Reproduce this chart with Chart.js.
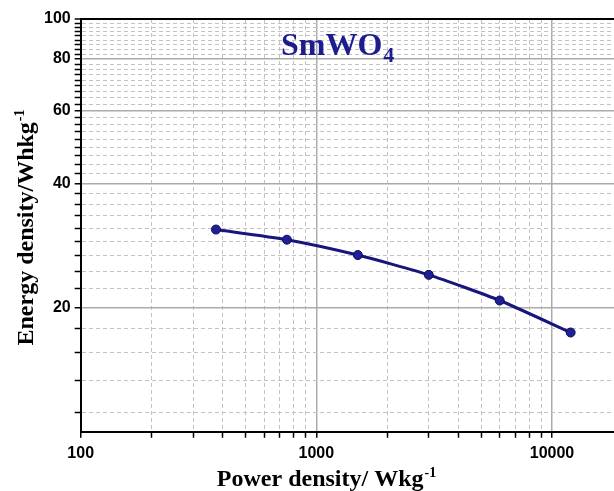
<!DOCTYPE html>
<html>
<head>
<meta charset="utf-8">
<script src="https://cdn.jsdelivr.net/npm/chart.js@4.4.1/dist/chart.umd.min.js"></script>
<style>
  html, body { margin: 0; padding: 0; background: #fff; }
  #wrap { width: 614px; height: 491px; }
</style>
</head>
<body>
<div id="wrap"><canvas id="myChart"></canvas></div>
<script>
// Ragone plot, SmWO4
var powerDensity = [375, 750, 1500, 3000, 6000, 12000];
var energyDensity = [30.9, 29.2, 26.8, 24.0, 20.8, 17.4];

var xMajorTicks = [100, 1000, 10000];
var xMinorTicks = [200, 300, 400, 500, 600, 700, 800, 900,
                   2000, 3000, 4000, 5000, 6000, 7000, 8000, 9000];
var yMajorTicks = [20, 40, 60, 80, 100];
var yMinorSteps = 9; // 8 minor lines between majors

var titleText = "SmWO";
var titleSub = "4";
var xTitle = "Power density/ Wkg";
var yTitle = "Energy density/Whkg";
var unitSup = "-1";

var lineColor = "#16167e";
var majorGrid = "#ababab";
var minorGrid = "#c2c2c2";

function isMajor(list, v) {
    for (var i = 0; i < list.length; i++) {
        if (Math.abs(list[i] - v) < 1e-6) return true;
    }
    return false;
}

var yTickValues = [];
for (var k = 5; k <= 45; k++) {
    yTickValues.push(20 * k / yMinorSteps);
}
var xTickValues = xMajorTicks.concat(xMinorTicks).sort(function (a, b) { return a - b; });

var points = powerDensity.map(function (p, i) { return { x: p, y: energyDensity[i] }; });

var textPlugin = {
    id: 'texts',
    afterDraw: function (chart) {
        var ctx = chart.ctx;
        ctx.save();
        ctx.fillStyle = '#000';
        ctx.textBaseline = 'alphabetic';
        ctx.textAlign = 'left';

        // x title
        ctx.font = 'bold 24px "Liberation Serif", "Times New Roman", serif';
        var w = ctx.measureText(xTitle).width;
        ctx.font = 'bold 14px "Liberation Serif", "Times New Roman", serif';
        var ws = ctx.measureText(unitSup).width;
        var xs = 326 - (w + ws) / 2;
        ctx.font = 'bold 24px "Liberation Serif", "Times New Roman", serif';
        ctx.fillText(xTitle, xs, 486);
        ctx.font = 'bold 14px "Liberation Serif", "Times New Roman", serif';
        ctx.fillText(unitSup, xs + w + 1, 477);

        // y title (rotated)
        ctx.save();
        ctx.translate(33, 228);
        ctx.rotate(-Math.PI / 2);
        ctx.font = 'bold 24px "Liberation Serif", "Times New Roman", serif';
        var wy = ctx.measureText(yTitle).width;
        ctx.font = 'bold 14px "Liberation Serif", "Times New Roman", serif';
        var wys = ctx.measureText(unitSup).width;
        var ys = -(wy + wys) / 2;
        ctx.font = 'bold 24px "Liberation Serif", "Times New Roman", serif';
        ctx.fillText(yTitle, ys, 0);
        ctx.font = 'bold 14px "Liberation Serif", "Times New Roman", serif';
        ctx.fillText(unitSup, ys + wy + 1, -9);
        ctx.restore();

        // chart label
        ctx.fillStyle = '#1c1c8e';
        ctx.font = 'bold 32px "Liberation Serif", "Times New Roman", serif';
        ctx.fillText(titleText, 281, 55);
        var wt = ctx.measureText(titleText).width;
        ctx.font = 'bold 22px "Liberation Serif", "Times New Roman", serif';
        ctx.fillText(titleSub, 281 + wt + 1, 62);
        ctx.restore();
    }
};

var chart = new Chart("myChart", {
    type: "line",
    data: {
        datasets: [{
            label: "SmWO4",
            data: points,
            borderColor: lineColor,
            borderWidth: 3,
            tension: 0.2,
            pointRadius: 4.5,
            pointHoverRadius: 4.5,
            pointBackgroundColor: "#1f1f96",
            pointBorderColor: "#0b0b55",
            pointBorderWidth: 1
        }]
    },
    options: {
        responsive: true,
        maintainAspectRatio: false,
        animation: false,
        layout: { autoPadding: false, padding: { left: 40, top: 19, right: 0, bottom: 22 } },
        plugins: {
            legend: { display: false },
            tooltip: { enabled: false }
        },
        scales: {
            x: {
                type: 'logarithmic',
                min: 100,
                max: 18330,
                afterBuildTicks: function (scale) {
                    scale.ticks = xTickValues.map(function (v) { return { value: v }; });
                },
                ticks: {
                    autoSkip: false,
                    maxRotation: 0,
                    padding: 6,
                    color: '#000',
                    font: { family: '"Liberation Sans", Arial, sans-serif', size: 16, weight: 'bold' },
                    callback: function (v) { return isMajor(xMajorTicks, v) ? String(v) : ''; }
                },
                grid: {
                    color: function (c) { return isMajor(xMajorTicks, c.tick.value) ? majorGrid : minorGrid; },
                    lineWidth: function (c) { return isMajor(xMajorTicks, c.tick.value) ? 1.5 : 1; },
                    tickColor: '#000',
                    tickWidth: 1.5,
                    tickLength: 6,
                    tickBorderDash: []
                },
                border: {
                    color: '#000',
                    width: 2,
                    dash: function (c) { return c.tick && !isMajor(xMajorTicks, c.tick.value) ? [4, 3] : []; }
                }
            },
            y: {
                type: 'logarithmic',
                min: 10,
                max: 100,
                afterBuildTicks: function (scale) {
                    scale.ticks = yTickValues.map(function (v) { return { value: v }; });
                },
                ticks: {
                    autoSkip: false,
                    padding: 4,
                    color: '#000',
                    font: { family: '"Liberation Sans", Arial, sans-serif', size: 16, weight: 'bold' },
                    callback: function (v) { return isMajor(yMajorTicks, v) ? String(Math.round(v)) : ''; }
                },
                grid: {
                    color: function (c) {
                        if (Math.abs(c.tick.value - 100) < 1e-6) return '#000';
                        return isMajor(yMajorTicks, c.tick.value) ? majorGrid : minorGrid;
                    },
                    lineWidth: function (c) {
                        if (Math.abs(c.tick.value - 100) < 1e-6) return 2;
                        return isMajor(yMajorTicks, c.tick.value) ? 1.5 : 1;
                    },
                    tickColor: '#000',
                    tickWidth: 1.5,
                    tickLength: 6,
                    tickBorderDash: []
                },
                border: {
                    color: '#000',
                    width: 2,
                    dash: function (c) { return c.tick && !isMajor(yMajorTicks, c.tick.value) ? [4, 3] : []; }
                }
            }
        }
    },
    plugins: [textPlugin]
});
</script>
</body>
</html>
